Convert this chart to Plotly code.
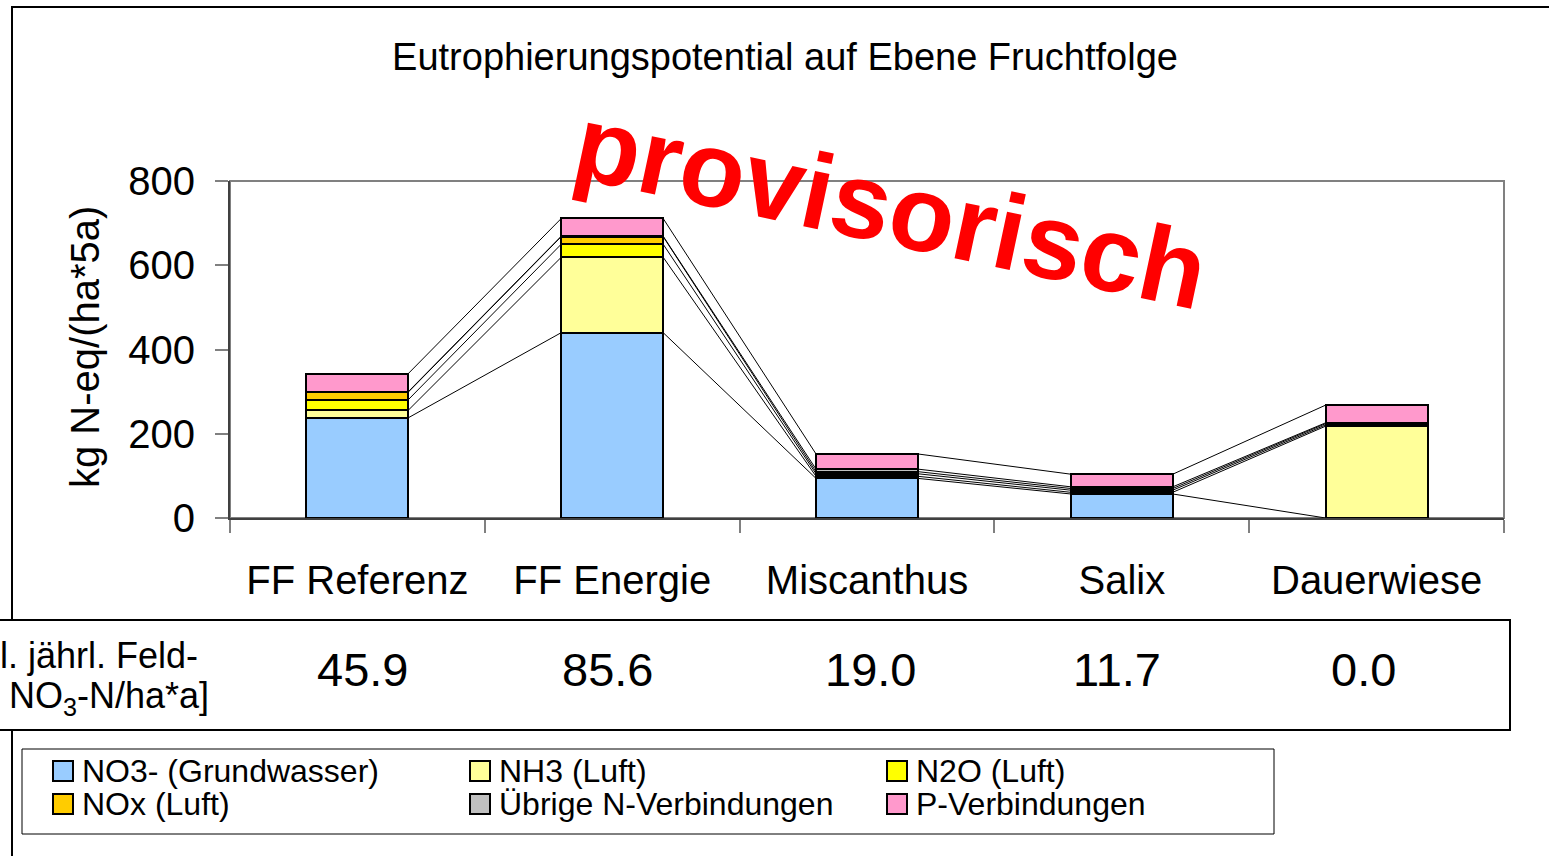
import plotly.graph_objects as go

# ---------------- data ----------------
categories = ["FF Referenz", "FF Energie", "Miscanthus", "Salix", "Dauerwiese"]
no3 = [238, 440, 94, 57, 0]
nh3 = [18, 179, 5, 4, 218]
n2o = [25, 31, 6, 5, 3]
nox = [18, 18, 5, 4, 3]
uebrige = [1, 1, 6, 4, 2]
p_verb = [43, 42, 36, 30, 42]
feld_verlust = [45.9, 85.6, 19.0, 11.7, 0.0]
y_ticks = [0, 200, 400, 600, 800]

series_names = ["NO3- (Grundwasser)", "NH3 (Luft)", "N2O (Luft)",
                "NOx (Luft)", "Übrige N-Verbindungen", "P-Verbindungen"]
series_values = [no3, nh3, n2o, nox, uebrige, p_verb]
colors = ["#99CCFF", "#FFFF99", "#FFFF00", "#FFCC00", "#C0C0C0", "#FF99CC"]

# ---------------- layout constants ----------------
W, H = 1549, 856
L, R, T, B = 230, 1504, 181, 518  # plot area in pixels
FONT = "Liberation Sans, Arial, sans-serif"
BW = 0.4


def px(x):
    return (x - L) / (R - L)


def py(y):
    return (B - y) / (B - T)


xs = list(range(len(categories)))
fig = go.Figure()

for name, vals, col in zip(series_names, series_values, colors):
    fig.add_trace(go.Bar(x=xs, y=vals, name=name, width=BW,
                         marker=dict(color=col, line=dict(color="black", width=2)),
                         showlegend=False))

# series connector lines
cum = []
running = [0] * len(categories)
for vals in series_values:
    running = [a + b for a, b in zip(running, vals)]
    cum.append(list(running))
for level in cum:
    lx, ly = [], []
    for i in range(len(categories) - 1):
        lx += [i + BW / 2, i + 1 - BW / 2, None]
        ly += [level[i], level[i + 1], None]
    fig.add_trace(go.Scatter(x=lx, y=ly, mode="lines",
                             line=dict(color="black", width=1),
                             showlegend=False, hoverinfo="skip"))

shapes = []
annotations = []

# outer chart frame
shapes.append(dict(type="rect", xref="paper", yref="paper",
                   x0=px(12), x1=px(1600), y0=py(7), y1=py(900),
                   line=dict(color="black", width=2), layer="below"))
# plot area border (gray)
shapes.append(dict(type="rect", xref="paper", yref="paper",
                   x0=0, x1=1, y0=0, y1=1,
                   line=dict(color="#808080", width=2), layer="below"))
# table box
shapes.append(dict(type="rect", xref="paper", yref="paper",
                   x0=px(-10), x1=px(1510), y0=py(620), y1=py(730),
                   line=dict(color="black", width=2), fillcolor="white"))
# legend box
shapes.append(dict(type="rect", xref="paper", yref="paper",
                   x0=px(22), x1=px(1274), y0=py(749), y1=py(834),
                   line=dict(color="black", width=1), fillcolor="white"))

# legend entries
leg_cols = [53, 470, 887]
leg_rows = [771, 804]
for k, (name, col) in enumerate(zip(series_names, colors)):
    cx = leg_cols[k % 3]
    cy = leg_rows[k // 3]
    shapes.append(dict(type="rect", xref="paper", yref="paper",
                       x0=px(cx), x1=px(cx + 20), y0=py(cy - 10), y1=py(cy + 10),
                       line=dict(color="black", width=2), fillcolor=col))
    annotations.append(dict(xref="paper", yref="paper", x=px(cx + 27), y=py(cy),
                            xanchor="left", yanchor="middle", text=name, showarrow=False,
                            font=dict(family=FONT, size=32, color="black")))

# table row header (partly cut off at left edge)
annotations.append(dict(xref="paper", yref="paper", x=px(-2), y=py(655),
                        xanchor="left", yanchor="middle", text="l. jährl. Feld-",
                        showarrow=False, font=dict(family=FONT, size=36, color="black")))
annotations.append(dict(xref="paper", yref="paper", x=px(7), y=py(698),
                        xanchor="left", yanchor="middle", text="NO<sub>3</sub>-N/ha*a]",
                        showarrow=False, font=dict(family=FONT, size=36, color="black")))
# table values
table_x_px = [362, 607, 870, 1117, 1363]
for xp, v in zip(table_x_px, feld_verlust):
    annotations.append(dict(xref="paper", yref="paper", x=px(xp), y=py(669),
                            xanchor="center", yanchor="middle", text=f"{v:.1f}",
                            showarrow=False, font=dict(family=FONT, size=47, color="black")))

# y axis title
annotations.append(dict(xref="paper", yref="paper", x=px(85), y=py(347),
                        xanchor="center", yanchor="middle", text="kg N-eq/(ha*5a)",
                        textangle=-90, showarrow=False,
                        font=dict(family=FONT, size=40, color="black")))

# watermark
annotations.append(dict(xref="paper", yref="paper", x=px(891), y=py(207),
                        xanchor="center", yanchor="middle", text="<b>provisorisch</b>",
                        textangle=12, showarrow=False,
                        font=dict(family=FONT, size=107, color="#FF0000")))

fig.update_layout(
    width=W, height=H,
    margin=dict(l=L, r=W - R, t=T, b=H - B, autoexpand=False),
    paper_bgcolor="white", plot_bgcolor="white",
    barmode="stack", bargap=0,
    showlegend=False,
    title=dict(text="Eutrophierungspotential auf Ebene Fruchtfolge",
               x=785 / W, xanchor="center", y=1 - 57 / H, yanchor="middle",
               font=dict(family=FONT, size=38, color="black")),
    font=dict(family=FONT, color="black"),
    shapes=shapes, annotations=annotations,
)

fig.update_xaxes(range=[-0.5, len(categories) - 0.5], tickmode="array",
                 tickvals=xs, ticktext=categories, ticks="",
                 showline=True, linecolor="#404040", linewidth=2,
                 showgrid=False, zeroline=False,
                 tickfont=dict(family=FONT, size=40, color="black"),
                 ticklabelstandoff=26,
                 minor=dict(tickmode="array",
                            tickvals=[i - 0.5 for i in range(len(categories) + 1)],
                            ticks="outside", ticklen=13, tickcolor="#808080",
                            tickwidth=2, showgrid=False))
fig.update_yaxes(range=[0, 800], tickmode="array", tickvals=y_ticks,
                 ticks="outside", ticklen=13, tickcolor="#808080", tickwidth=2,
                 showline=True, linecolor="#404040", linewidth=2,
                 showgrid=False, zeroline=False,
                 tickfont=dict(family=FONT, size=40, color="black"),
                 ticklabelstandoff=12)

fig.write_html("out.html", config={"displayModeBar": False},
               post_script="document.body.style.margin='0';")
